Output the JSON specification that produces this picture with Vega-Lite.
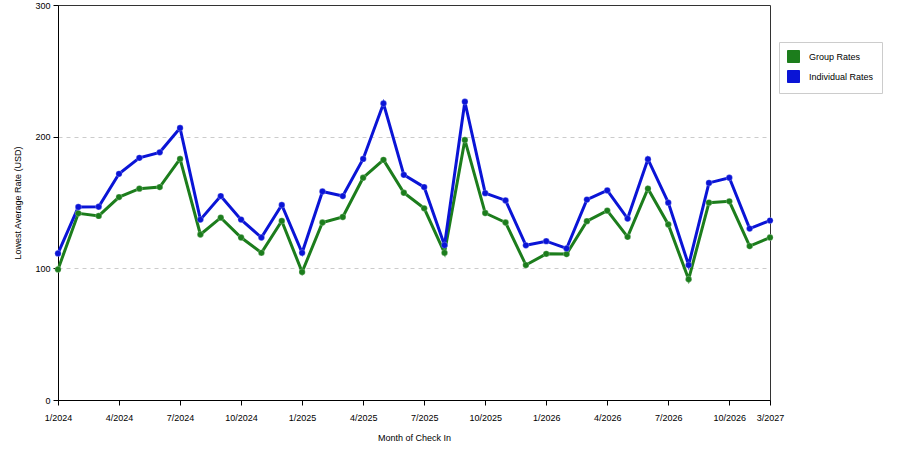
{
  "$schema": "https://vega.github.io/schema/vega-lite/v6.json",
  "description": "Lowest average rate by month of check in, group vs individual",
  "autosize": {"type": "none"},
  "padding": {"left": 58, "top": 5, "right": 130, "bottom": 50},
  "width": 712,
  "height": 395,
  "view": {"stroke": "#333333", "strokeWidth": 1},
  "config": {
    "font": "Liberation Sans",
    "axis": {
      "labelFont": "Liberation Sans",
      "titleFont": "Liberation Sans",
      "labelFontSize": 9,
      "titleFontSize": 9,
      "titleFontWeight": "normal",
      "labelColor": "#000000",
      "titleColor": "#000000",
      "domainColor": "#000000",
      "tickColor": "#000000",
      "tickSize": 5
    },
    "legend": {
      "labelFont": "Liberation Sans",
      "labelFontSize": 9,
      "labelColor": "#000000"
    }
  },
  "datasets": {
    "rates": [
      {"month": "1/2024", "series": "Group Rates", "rate": 99.2},
      {"month": "2/2024", "series": "Group Rates", "rate": 141.8},
      {"month": "3/2024", "series": "Group Rates", "rate": 139.8},
      {"month": "4/2024", "series": "Group Rates", "rate": 154.1},
      {"month": "5/2024", "series": "Group Rates", "rate": 160.5},
      {"month": "6/2024", "series": "Group Rates", "rate": 161.7},
      {"month": "7/2024", "series": "Group Rates", "rate": 183.1},
      {"month": "8/2024", "series": "Group Rates", "rate": 125.7},
      {"month": "9/2024", "series": "Group Rates", "rate": 138.5},
      {"month": "10/2024", "series": "Group Rates", "rate": 123.4},
      {"month": "11/2024", "series": "Group Rates", "rate": 111.8},
      {"month": "12/2024", "series": "Group Rates", "rate": 136.0},
      {"month": "1/2025", "series": "Group Rates", "rate": 97.2},
      {"month": "2/2025", "series": "Group Rates", "rate": 134.8},
      {"month": "3/2025", "series": "Group Rates", "rate": 139.0},
      {"month": "4/2025", "series": "Group Rates", "rate": 168.8},
      {"month": "5/2025", "series": "Group Rates", "rate": 182.4},
      {"month": "6/2025", "series": "Group Rates", "rate": 157.4},
      {"month": "7/2025", "series": "Group Rates", "rate": 145.6},
      {"month": "8/2025", "series": "Group Rates", "rate": 111.8},
      {"month": "9/2025", "series": "Group Rates", "rate": 197.5},
      {"month": "10/2025", "series": "Group Rates", "rate": 142.0},
      {"month": "11/2025", "series": "Group Rates", "rate": 134.8},
      {"month": "12/2025", "series": "Group Rates", "rate": 102.5},
      {"month": "1/2026", "series": "Group Rates", "rate": 111.0},
      {"month": "2/2026", "series": "Group Rates", "rate": 110.8},
      {"month": "3/2026", "series": "Group Rates", "rate": 135.8},
      {"month": "4/2026", "series": "Group Rates", "rate": 143.8},
      {"month": "5/2026", "series": "Group Rates", "rate": 123.9},
      {"month": "6/2026", "series": "Group Rates", "rate": 160.5},
      {"month": "7/2026", "series": "Group Rates", "rate": 133.3},
      {"month": "8/2026", "series": "Group Rates", "rate": 91.7},
      {"month": "9/2026", "series": "Group Rates", "rate": 149.9},
      {"month": "10/2026", "series": "Group Rates", "rate": 150.9},
      {"month": "11/2026", "series": "Group Rates", "rate": 116.9},
      {"month": "12/2026", "series": "Group Rates", "rate": 123.4},
      {"month": "1/2024", "series": "Individual Rates", "rate": 111.3},
      {"month": "2/2024", "series": "Individual Rates", "rate": 146.6},
      {"month": "3/2024", "series": "Individual Rates", "rate": 146.8},
      {"month": "4/2024", "series": "Individual Rates", "rate": 171.8},
      {"month": "5/2024", "series": "Individual Rates", "rate": 183.9},
      {"month": "6/2024", "series": "Individual Rates", "rate": 188.1},
      {"month": "7/2024", "series": "Individual Rates", "rate": 206.6},
      {"month": "8/2024", "series": "Individual Rates", "rate": 137.0},
      {"month": "9/2024", "series": "Individual Rates", "rate": 154.9},
      {"month": "10/2024", "series": "Individual Rates", "rate": 137.0},
      {"month": "11/2024", "series": "Individual Rates", "rate": 123.4},
      {"month": "12/2024", "series": "Individual Rates", "rate": 148.1},
      {"month": "1/2025", "series": "Individual Rates", "rate": 111.8},
      {"month": "2/2025", "series": "Individual Rates", "rate": 158.4},
      {"month": "3/2025", "series": "Individual Rates", "rate": 154.9},
      {"month": "4/2025", "series": "Individual Rates", "rate": 183.1},
      {"month": "5/2025", "series": "Individual Rates", "rate": 225.2},
      {"month": "6/2025", "series": "Individual Rates", "rate": 171.0},
      {"month": "7/2025", "series": "Individual Rates", "rate": 161.7},
      {"month": "8/2025", "series": "Individual Rates", "rate": 117.6},
      {"month": "9/2025", "series": "Individual Rates", "rate": 226.5},
      {"month": "10/2025", "series": "Individual Rates", "rate": 157.1},
      {"month": "11/2025", "series": "Individual Rates", "rate": 151.6},
      {"month": "12/2025", "series": "Individual Rates", "rate": 117.5},
      {"month": "1/2026", "series": "Individual Rates", "rate": 120.6},
      {"month": "2/2026", "series": "Individual Rates", "rate": 115.1},
      {"month": "3/2026", "series": "Individual Rates", "rate": 152.2},
      {"month": "4/2026", "series": "Individual Rates", "rate": 159.2},
      {"month": "5/2026", "series": "Individual Rates", "rate": 137.8},
      {"month": "6/2026", "series": "Individual Rates", "rate": 182.9},
      {"month": "7/2026", "series": "Individual Rates", "rate": 149.9},
      {"month": "8/2026", "series": "Individual Rates", "rate": 102.5},
      {"month": "9/2026", "series": "Individual Rates", "rate": 164.9},
      {"month": "10/2026", "series": "Individual Rates", "rate": 168.8},
      {"month": "11/2026", "series": "Individual Rates", "rate": 130.2},
      {"month": "12/2026", "series": "Individual Rates", "rate": 136.3}
    ]
  },
  "data": {"name": "rates"},
  "encoding": {
    "x": {
      "field": "month",
      "type": "ordinal",
      "sort": null,
      "scale": {"type": "point", "padding": 0},
      "title": "Month of Check In",
      "axis": {
        "labelAngle": 0,
        "grid": false,
        "values": ["1/2024", "4/2024", "7/2024", "10/2024", "1/2025", "4/2025", "7/2025", "10/2025", "1/2026", "4/2026", "7/2026", "10/2026", "12/2026"],
        "labelExpr": "datum.value == '12/2026' ? '3/2027' : datum.value",
        "labelPadding": 8,
        "titlePadding": 11
      }
    },
    "y": {
      "field": "rate",
      "type": "quantitative",
      "scale": {"domain": [0, 300], "nice": false},
      "title": "Lowest Average Rate (USD)",
      "axis": {
        "values": [0, 100, 200, 300],
        "grid": true,
        "gridColor": "#cccccc",
        "gridDash": [4, 4],
        "gridOpacity": {"condition": {"test": "datum.value == 100 || datum.value == 200", "value": 1}, "value": 0},
        "labelPadding": 3,
        "titlePadding": 12
      }
    },
    "color": {
      "field": "series",
      "type": "nominal",
      "scale": {"domain": ["Group Rates", "Individual Rates"], "range": ["#1c7d1c", "#0a14d6"]},
      "legend": {
        "title": null,
        "orient": "none",
        "legendX": 721,
        "legendY": 37,
        "symbolType": "square",
        "symbolSize": 144,
        "rowPadding": 3,
        "labelOffset": 9,
        "padding": 8,
        "fillColor": "#ffffff",
        "strokeColor": "#cccccc",
        "encode": {
          "symbols": {
            "update": {
              "fill": {"scale": "color", "field": "value"},
              "stroke": {"value": "#333333"},
              "strokeWidth": {"value": 1},
              "shape": {"value": "square"},
              "size": {"value": 144}
            }
          }
        }
      }
    }
  },
  "layer": [
    {
      "mark": {"type": "line", "strokeWidth": 3}
    },
    {
      "mark": {"type": "point", "filled": true, "size": 40, "opacity": 1, "stroke": "#ffffff", "strokeOpacity": 0.25, "strokeWidth": 1}
    }
  ]
}
